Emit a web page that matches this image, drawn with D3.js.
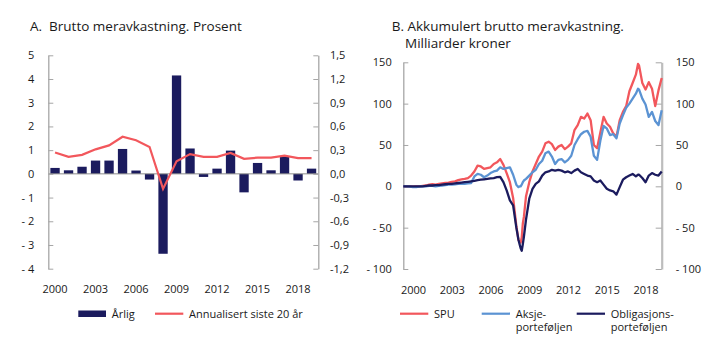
<!DOCTYPE html>
<html><head><meta charset="utf-8">
<script src="https://cdn.jsdelivr.net/npm/d3@7/dist/d3.min.js"></script>
<style>
body{margin:0;background:#fff;}
svg text{font-family:"Open Sans",sans-serif;fill:#1a1a1a;white-space:pre;}
</style></head>
<body><svg id="c" width="719" height="341"></svg>
<script>
// ---------- Panel A data ----------
const years = ["2000","2001","2002","2003","2004","2005","2006","2007","2008","2009","2010","2011","2012","2013","2014","2015","2016","2017","2018","2019"];
const arlig = [0.25,0.15,0.30,0.56,0.56,1.05,0.14,-0.24,-3.37,4.15,1.07,-0.13,0.22,0.98,-0.78,0.46,0.15,0.74,-0.28,0.22];
const annualisert = [0.27,0.215,0.24,0.31,0.36,0.47,0.425,0.34,-0.19,0.16,0.25,0.215,0.215,0.265,0.19,0.205,0.205,0.23,0.20,0.20];
const leftTicksA = [-4,-3,-2,-1,0,1,2,3,4,5];
const rightTicksA = [-1.2,-0.9,-0.6,-0.3,0,0.3,0.6,0.9,1.2,1.5];
const xLabelsA = ["2000","2003","2006","2009","2012","2015","2018"];

// ---------- Panel B data ----------
const months = ["1999-10","2000-01","2000-04","2000-07","2000-10","2001-01","2001-04","2001-07","2001-10","2002-01","2002-04","2002-07","2002-10","2003-01","2003-04","2003-07","2003-10","2004-01","2004-04","2004-07","2004-10","2005-01","2005-04","2005-07","2005-10","2006-01","2006-04","2006-07","2006-10","2007-01","2007-04","2007-07","2007-10","2008-01","2008-04","2008-07","2008-09","2008-10","2008-11","2008-12","2009-01","2009-02","2009-04","2009-07","2009-10","2010-01","2010-04","2010-07","2010-10","2011-01","2011-04","2011-07","2011-10","2012-01","2012-04","2012-07","2012-10","2013-01","2013-04","2013-07","2013-10","2014-01","2014-04","2014-07","2014-10","2015-01","2015-04","2015-07","2015-10","2016-01","2016-04","2016-07","2016-10","2017-01","2017-04","2017-07","2017-10","2017-12","2018-01","2018-04","2018-07","2018-10","2019-01","2019-04","2019-07","2019-10"];
const spu = [0,0,0,-0.5,0,0,0.5,1,2,2.5,2,3,3.5,4,4.5,5.5,6,7.5,8.5,9,10,13,18,25,24,21,22,23,27,29,33,26,16,5,-14,-48,-65,-67,-68,-62,-45,-37,-12,5,18,27,36,42,52,54,51,44,48,50,45,48,52,68,74,84,82,88,80,50,46,65,84,76,72,64,60,80,90,97,115,125,135,148,146,125,117,126,118,97,116,131];
const aksje = [0,0,-0.5,-1,-1,-0.5,0,0,0.5,0.5,0,0.5,1,1.5,2,2,2.5,3,3,3,3.5,4,12,15,14,11,13,16,18,19,23,21,22,23,14,2,-1,0,0,2,5,7,9,13,17,20,27,31,40,42,36,27,32,33,29,32,37,50,57,63,66,67,60,37,32,55,73,70,62,63,58,76,86,95,100,106,112,118,117,106,99,84,90,79,74,92];
const oblig = [0,0,0,0,0,0,0,0.5,1,1,1.5,1.5,2,2.5,3,3,3.5,4,4.5,5,5.5,6,6.5,7.5,8,8.5,9,9.5,10,11,11.5,5,-5,-17,-23,-50,-65,-70,-75,-78,-70,-61,-40,-15,-3,3,6,13,17,18,20,19,20,19,17,18,16,19,21,17,15,13,12,7,5,7,2,-3,-5,-6,-10,-1,8,11,13,15,12,14,14,10,5,13,16,14,13,18];
const ticksB = [-100,-50,0,50,100,150];
const xLabelsB = [2000,2003,2006,2009,2012,2015,2018];

const NAVY="#1b1b5e", RED="#f2575c", BLUE="#5b93d3", AX="#a6a6a6";
const svg = d3.select("#c");

// ================= Panel A =================
const A = {l:48.3, r:318.3, t:55.3, b:268.7};
const xA = d3.scaleBand().domain(years).range([A.l,A.r]).paddingInner(0.31).paddingOuter(0.155);
const yL = d3.scaleLinear().domain([-4,5]).range([A.b,A.t]);
const yR = d3.scaleLinear().domain([-1.2,1.5]).range([A.b,A.t]);

svg.append("text").attr("x",30).attr("y",31).attr("font-size",13.5).attr("xml:space","preserve").text("A.  Brutto meravkastning. Prosent");

const gA = svg.append("g");
gA.selectAll("rect.bar").data(years).join("rect").attr("class","bar")
  .attr("x",d=>xA(d)).attr("width",xA.bandwidth())
  .attr("y",(d,i)=>yL(Math.max(0,arlig[i])))
  .attr("height",(d,i)=>Math.abs(yL(arlig[i])-yL(0)))
  .attr("fill",NAVY);
gA.append("line").attr("x1",A.l).attr("x2",A.r).attr("y1",yL(0)).attr("y2",yL(0)).attr("stroke","#8c8c8c").attr("stroke-width",1);

const lineA = d3.line().x((d,i)=>xA(years[i])+xA.bandwidth()/2).y(d=>yR(d));
gA.append("path").datum(annualisert).attr("d",lineA).attr("fill","none").attr("stroke",RED).attr("stroke-width",2.2);

const fmtL = v => v<0 ? "- "+Math.abs(v) : String(v);
const fmtR = v => (Math.abs(v)<1e-9? "0,0" : d3.format(".1f")(v).replace(".",",").replace("−","-"));
const axL = gA.append("g").attr("transform",`translate(${A.l},0)`)
  .call(d3.axisLeft(yL).tickValues(leftTicksA).tickSizeInner(-5).tickSizeOuter(0).tickPadding(14).tickFormat(fmtL));
const axR = gA.append("g").attr("transform",`translate(${A.r},0)`)
  .call(d3.axisRight(yR).tickValues(rightTicksA).tickSizeInner(-5).tickSizeOuter(0).tickPadding(11.7).tickFormat(fmtR));
[axL,axR].forEach(g=>{
  g.select(".domain").attr("stroke",AX).attr("stroke-width",1.3);
  g.selectAll(".tick line").attr("stroke",AX);
  g.selectAll("text").attr("font-size",11).attr("font-family","Open Sans").attr("fill","#1a1a1a");
});
const axBA = gA.append("g").attr("transform",`translate(0,${A.b})`)
  .call(d3.axisBottom(xA).tickValues(xLabelsA).tickSize(0).tickPadding(17));
axBA.select(".domain").remove();
axBA.selectAll("text").attr("font-size",11).attr("font-family","Open Sans").attr("fill","#1a1a1a");

// legend A
const lgA = svg.append("g");
lgA.append("rect").attr("x",78.3).attr("y",310.5).attr("width",27.7).attr("height",6.5).attr("fill",NAVY);
lgA.append("text").attr("x",111.7).attr("y",317.5).attr("font-size",11).text("Årlig");
lgA.append("line").attr("x1",155).attr("x2",183.3).attr("y1",313.7).attr("y2",313.7).attr("stroke",RED).attr("stroke-width",2.2);
lgA.append("text").attr("x",189).attr("y",317.5).attr("font-size",11).text("Annualisert siste 20 år");

// ================= Panel B =================
const B = {l:403.3, r:661.7, t:62.3, b:269};
const toT = s => { const [y,m]=s.split("-").map(Number); return y+(m-1)/12; };
const xB = d3.scaleLinear().domain([1999.75,2019.75]).range([B.l,B.r]);
const yB = d3.scaleLinear().domain([-100,150]).range([B.b,B.t]);

svg.append("text").attr("x",391.7).attr("y",31).attr("font-size",13.5).text("B. Akkumulert brutto meravkastning.");
svg.append("text").attr("x",405).attr("y",47.5).attr("font-size",13.5).text("Milliarder kroner");

const gB = svg.append("g");
const fmtB = v => v<0 ? "- "+Math.abs(v) : String(v);
const bL = gB.append("g").attr("transform",`translate(${B.l},0)`)
  .call(d3.axisLeft(yB).tickValues(ticksB).tickSizeInner(-5).tickSizeOuter(0).tickPadding(11.6).tickFormat(fmtB));
const bR = gB.append("g").attr("transform",`translate(${B.r},0)`)
  .call(d3.axisRight(yB).tickValues(ticksB).tickSizeInner(-6).tickSizeOuter(0).tickPadding(14).tickFormat(fmtB));
bL.select(".domain").attr("stroke",AX).attr("stroke-width",1.3);
bR.select(".domain").attr("stroke","#bdbdbd").attr("stroke-width",2.2);
[bL,bR].forEach(g=>{
  g.selectAll(".tick line").attr("stroke",AX);
  g.selectAll("text").attr("font-size",11).attr("font-family","Open Sans").attr("fill","#1a1a1a");
});
const axBB = gB.append("g").attr("transform",`translate(0,${B.b})`)
  .call(d3.axisBottom(xB).tickValues(xLabelsB.map(y=>y+0.5)).tickSize(0).tickPadding(17).tickFormat(d=>String(Math.round(d-0.5))));
axBB.select(".domain").remove();
axBB.selectAll("text").attr("font-size",11).attr("font-family","Open Sans").attr("fill","#1a1a1a");

const lineB = d3.line().x((d,i)=>xB(toT(months[i]))).y(d=>yB(d)).curve(d3.curveLinear);
[[spu,RED],[aksje,BLUE],[oblig,NAVY]].forEach(([s,c])=>{
  gB.append("path").datum(s).attr("d",lineB).attr("fill","none").attr("stroke",c).attr("stroke-width",2.3).attr("stroke-linejoin","round");
});

// legend B
const lgB = svg.append("g");
const items = [[400,RED,["SPU"]],[481.7,BLUE,["Aksje-","porteføljen"]],[576.7,NAVY,["Obligasjons-","porteføljen"]]];
items.forEach(([x0,c,lines])=>{
  lgB.append("line").attr("x1",x0).attr("x2",x0+28.3).attr("y1",313.7).attr("y2",313.7).attr("stroke",c).attr("stroke-width",2.2);
  lines.forEach((t,k)=>lgB.append("text").attr("x",x0+34).attr("y",317.5+k*13.5).attr("font-size",11).text(t));
});
</script></body></html>
